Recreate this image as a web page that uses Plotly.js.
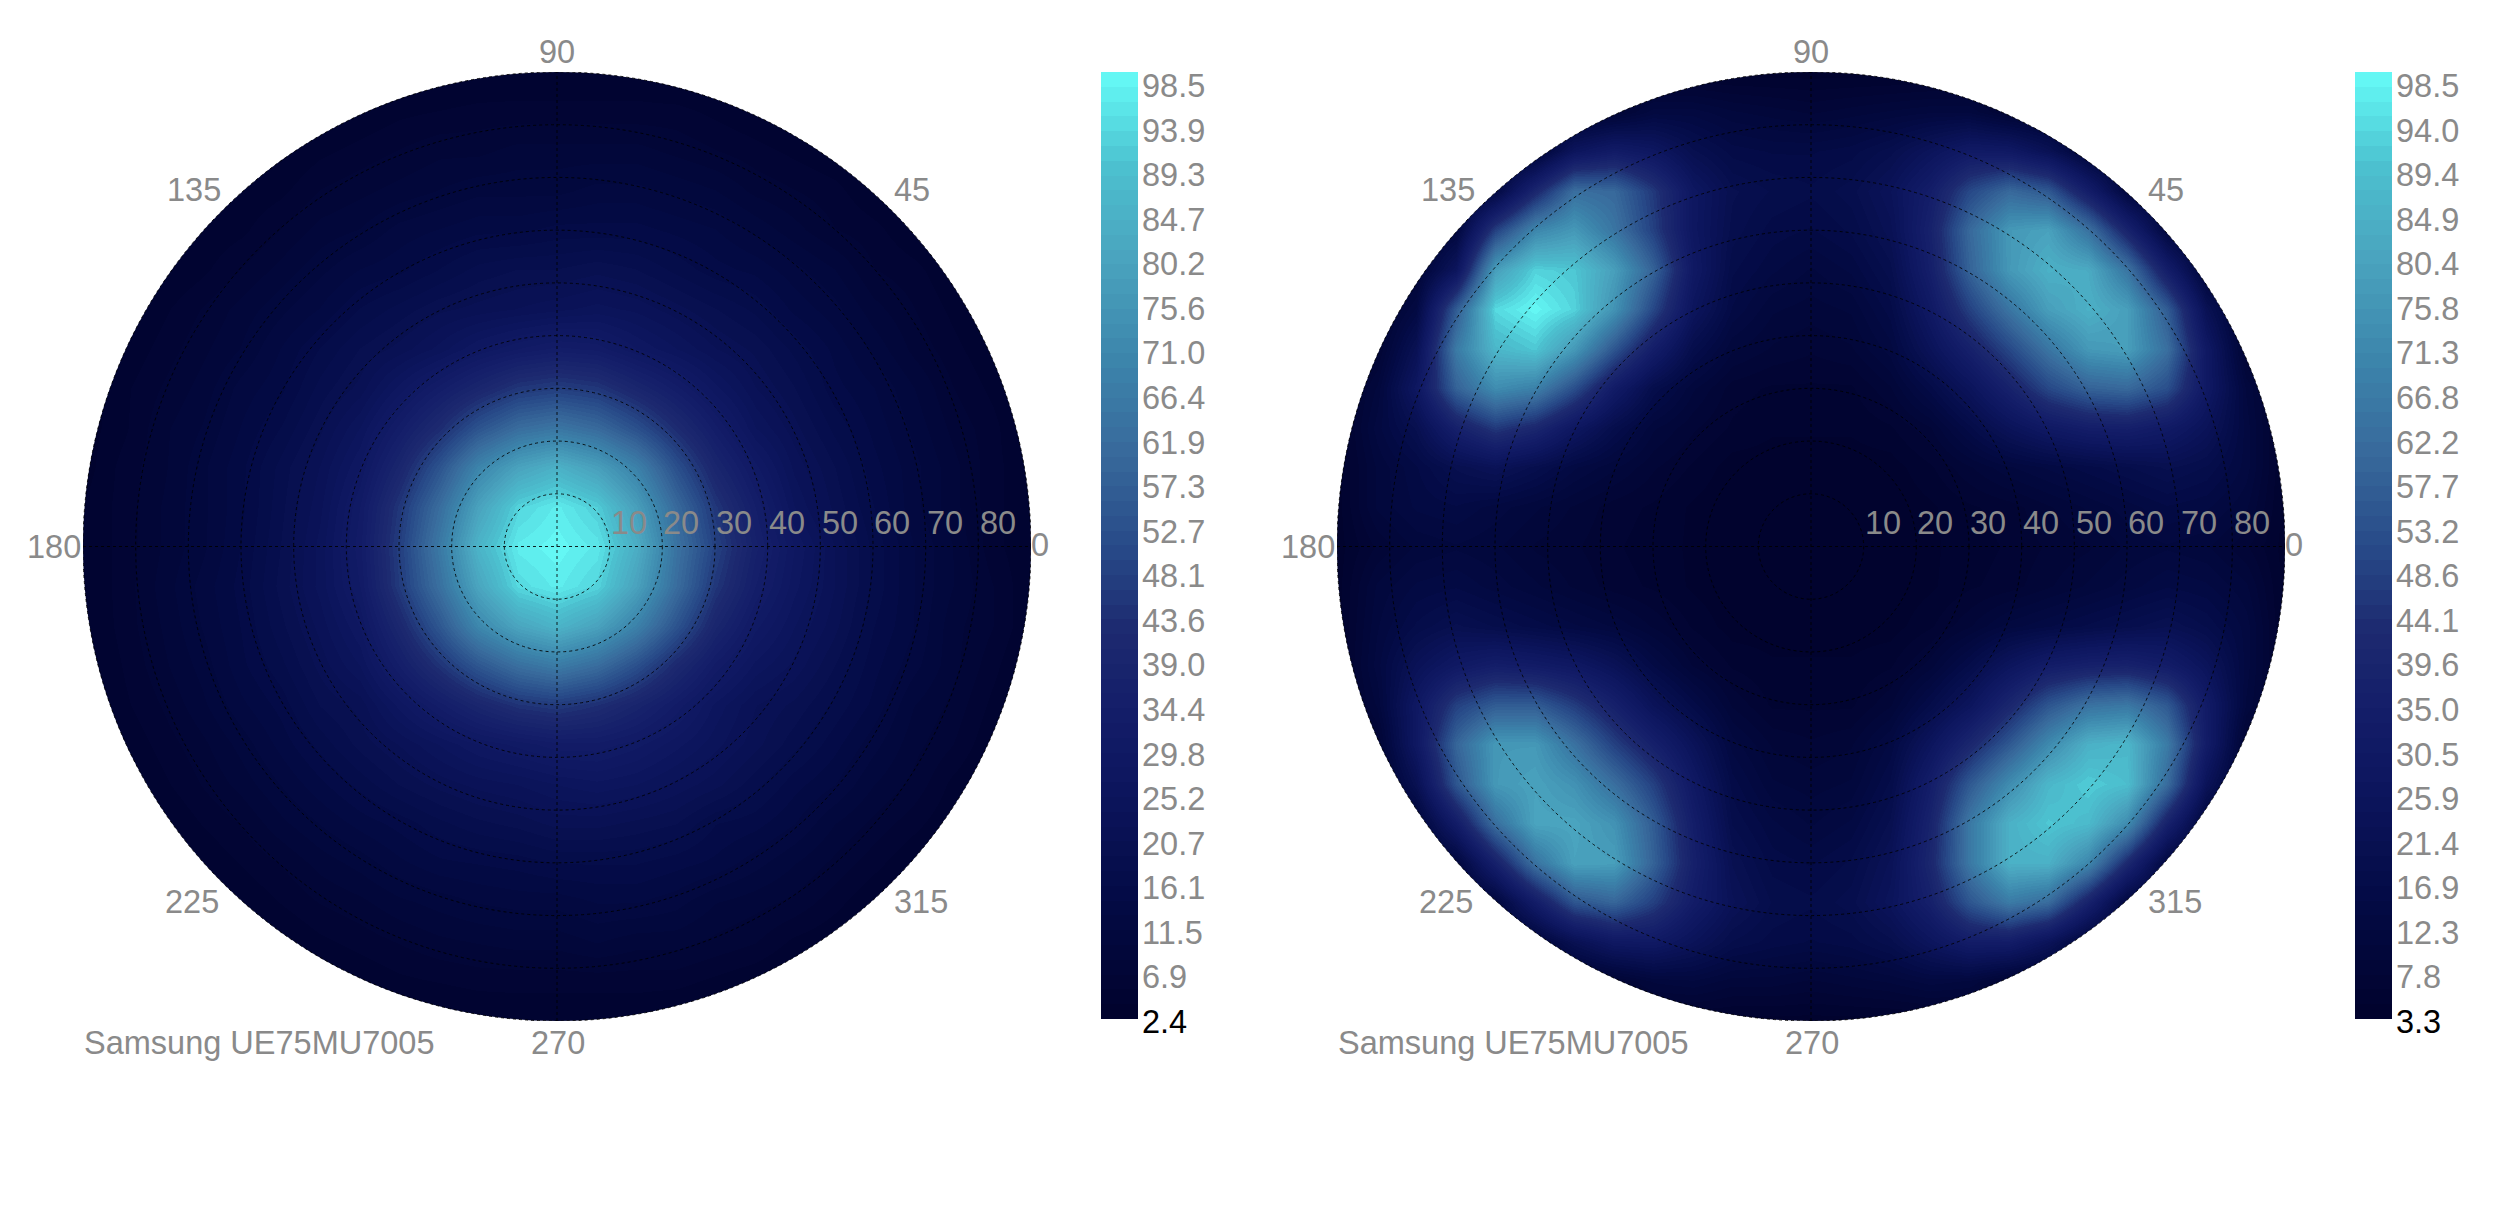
<!DOCTYPE html>
<html>
<head>
<meta charset="utf-8">
<script src="https://cdn.plot.ly/plotly-3.0.1.min.js"></script>
<style>body{margin:0;background:#fff}</style>
</head>
<body>
<div id="chart"></div>
<script>
var gridDeg = [-90,-82.5,-75,-67.5,-60,-52.5,-45,-37.5,-30,-22.5,-15,-7.5,0,7.5,15,22.5,30,37.5,45,52.5,60,67.5,75,82.5,90];
var ringDeg = [10,20,30,40,50,60,70,80];
var radialLabels = ['10','20','30','40','50','60','70','80'];
var angleLabels = ['0','45','90','135','180','225','270','315'];
var deviceName = 'Samsung UE75MU7005';

var leftTicks = ['98.5','93.9','89.3','84.7','80.2','75.6','71.0','66.4','61.9','57.3','52.7','48.1','43.6','39.0','34.4','29.8','25.2','20.7','16.1','11.5','6.9','2.4'];
var rightTicks = ['98.5','94.0','89.4','84.9','80.4','75.8','71.3','66.8','62.2','57.7','53.2','48.6','44.1','39.6','35.0','30.5','25.9','21.4','16.9','12.3','7.8','3.3'];

// rows run from y = +90 at the top to y = -90 at the bottom
var leftZ = [
[3,3,3,3,3,3,3,3,3,3,3.5,4,4,4,4,3,3,3,3,3,3,3,3,3,3],
[3,3,3,3,3,3,3,4,5,5.5,6,6,6,6,6,6,5,4,3,3,3,3,3,3,3],
[3,3,3,3,3,3.5,5,6,7,8,8,9,9,9,9,8,7,6,5,4,3,3,3,3,3],
[3,3,3,3,4,5,7,8,9,10,11,11,11,12,12,11,10,8,7,6,4,3,3,3,3],
[3,3,3,4,5,7,9,10,12,13,14,14,15,15,15,14,13,11,9,7,6,4,3,3,3],
[3,3,3.5,5,7,9,11,13,14,16,18,19,19,20,19,17,15,14,12,10,7,6,4,3,3],
[3,3,5,7,9,11,13,16,18,20,21,22,23,24,23,21,19,17,14,12,9,7,5,3,3],
[3,4,6,8,10,13,16,19,21,24,28,31,33,32,28,25,22,20,17,14,11,8,6,4,3],
[3,5,7,9,12,14,18,21,27,33,39,45,47,45,39,33,27,22,19,15,13,10,7,5,3],
[3,5,8,10,13,16,20,25,33,42,53,61,64,60,52,42,33,25,21,17,14,11,8,6,3],
[3,6,8,11,14,18,22,28,39,53,69,79,84,78,68,52,39,30,23,19,15,12,9,6,4],
[4,6,8.5,11,14,18.5,23,31,45,61,79,92,96,91,78,60,45,34,25,20,16,12,9,6,4],
[4,6,8.5,11,14.5,19,24,32,47,65,85,96,98,95,83,63,48,36,28,22,17,13,10,6,4],
[4,6,9,12,15,19.5,24,31,46,62,80,93,96,92,79,61,45,34,27,22,17,13,10,7,4],
[3.5,6,8.5,11.5,14.5,18.5,22.5,28,40,54,70,80,85,79,68,53,39,30,25,21,16,13,9,7,4],
[3,5.5,8,10.5,14,17,21,25,34,44,54,62,66,61,52,41,32,26,23,19,15,12,9,6,3],
[3,5,7,9.5,12.5,15,19,21,27,33,39,44,46,43,38,32,26,22,20,17,14,10,8,5,3],
[3,4,6,8,10.5,13.5,16.5,19.5,22,25,28,30,32,32,30,27,24,21,18,15,12,9,7,4,3],
[3,3,5,7,9,11.5,14,16.5,19,21,22.5,23.5,25,26,25,23,21,18,15,13,10,8,5,3,3],
[3,3,3.5,5.5,7,9.5,11.5,13.5,15,17,18.5,19.5,21,21,20,19,16,15,13,10,8,6,4,3,3],
[3,3,3,4,5.5,7,9,10.5,12.5,14,14.5,15,16,16,16,15,14,12,10,8,6,4,3,3,3],
[3,3,3,3,4,5.5,7,8,9.5,10.5,11.5,12,12,13,13,12,10,9,8,6,4,3,3,3,3],
[3,3,3,3,3,3.5,5,6,7,8,8.5,9,9,10,9,9,8,7,5,4,3,3,3,3,3],
[3,3,3,3,3,3,3,4,5,5.5,6,6,6,6,6,6,5,4,3,3,3,3,3,3,3],
[3,3,3,3,3,3,3,3,3,3,3.5,4,4,4,4,3,3,3,3,3,3,3,3,3,3]
];

var rightZ = [
[3.3,3.3,3.3,3.3,3.3,3.3,3.3,3.3,4,4,4,4,4,4,4,4,4,3.3,3.3,3.3,3.3,3.3,3.3,3.3,3.3],
[3.3,3.3,3.3,3.3,3.3,3.3,5,8,13,13,11,10,9,10,11,12,12,7,5,3.3,3.3,3.3,3.3,3.3,3.3],
[3.3,3.3,3.3,3.3,4,8,26,32,28,20,16,15,15,16,19,25,31,30,22,9,5,3.3,3.3,3.3,3.3],
[3.3,3.3,3.3,5,14,40,62,60,46,28,20,18,17,19,24,34,50,60,55,34,12,5,3.3,3.3,3.3],
[3.3,3.3,5,12,48,70,76,64,48,28,19,16,15,17,22,37,60,76,79,63,38,12,5,3.3,3.3],
[3.3,3.3,8,26,78,92,90,78,58,30,17,14,12,14,19,35,58,76,84,82,64,34,9,3.3,3.3],
[3.3,5,14,56,93,98,92,74,50,26,15,11,10,11,16,30,48,64,78,84,78,56,22,5,3.3],
[3.3,7,22,66,86,90,76,54,34,18,11,9,8,9,13,24,36,50,64,76,78,62,30,7,3.3],
[4,11,28,58,72,68,52,32,18,11,7,6,6,6,9,16,25,37,50,58,60,52,30,12,4],
[4,13,20,36,46,40,28,18,11,8,6,5,5,5,6,9,16,24,30,34,35,31,24,13,4],
[4,11,15,20,23,19,14,11,8,6,4,4,4,4,4,6,9,12,14,16,18,20,18,13,4],
[4,11,14,15,13,11,9,7,6,4.5,3.5,3.5,3.5,3.5,3.5,4.5,6,7,9,11,13,15,14,11,4],
[4,8,11,12,11,9,8,6.5,5.5,4.5,3.5,3.5,3.5,3.5,3.5,4.5,5.5,6.5,8,9,11,12,11,8,4],
[4,11,14,15,13,11,9,7,6,4.5,3.5,3.5,3.5,3.5,3.5,4.5,6,7,9,11,13,15,14,11,4],
[4,12,17,20,18,16,14,12,9,6,4,4,4,4,4,6,9,13,15,17,19,21,18,13,4],
[4,13,23,30,34,32,29,23,15,9,6,5,5,5,6,10,17,26,33,36,37,33,25,13,4],
[4,11,29,48,56,56,47,36,24,16,9,6,6,6,9,17,26,40,54,63,65,55,32,12,4],
[3.3,7,29,59,76,76,63,48,36,24,13,9,8,9,14,26,40,55,71,84,86,66,33,7,3.3],
[3.3,4,21,54,76,79,74,62,48,30,16,11,10,11,17,34,55,72,86,91,88,61,24,5,3.3],
[3.3,3.3,9,33,62,80,80,74,56,34,18,14,12,14,20,38,65,84,90,87,72,37,10,3.3,3.3],
[3.3,3.3,4,11,36,63,79,78,58,36,21,16,15,17,23,40,65,84,84,70,41,12,5,3.3,3.3],
[3.3,3.3,3.3,5,11,33,54,59,48,33,23,18,17,19,25,36,54,66,61,37,12,6,3.3,3.3,3.3],
[3.3,3.3,3.3,3.3,4,9,21,29,30,24,18,16,15,16,19,26,33,33,24,10,5,3.3,3.3,3.3,3.3],
[3.3,3.3,3.3,3.3,3.3,3.3,4,7,11,12,10,10,9,10,11,13,12,7,5,3.3,3.3,3.3,3.3,3.3,3.3],
[3.3,3.3,3.3,3.3,3.3,3.3,3.3,3.3,4,4,4,4,4,4,4,4,4,3.3,3.3,3.3,3.3,3.3,3.3,3.3,3.3]
];

// colour ramp, broken into 64 flat bands like the reference
var rampStops = [0, 0.12, 0.25, 0.33, 0.41, 0.5, 0.6, 0.7, 0.8, 0.9, 0.95, 1];
var rampRGB = [[1,3,44],[3,10,68],[13,22,95],[20,30,105],[29,42,112],[40,75,137],[56,106,156],[60,134,172],[74,163,190],[76,192,207],[88,223,228],[102,251,247]];

function rampAt(t) {
  var i = 0;
  while (i < rampStops.length - 2 && t > rampStops[i + 1]) i++;
  var f = (t - rampStops[i]) / (rampStops[i + 1] - rampStops[i]);
  var c = rampRGB[i].map(function(a, k) { return Math.round(a + f * (rampRGB[i + 1][k] - a)); });
  return 'rgb(' + c.join(',') + ')';
}
var bands = 64, colorscale = [];
for (var b = 0; b < bands; b++) {
  var col = rampAt((b + 0.5) / bands);
  colorscale.push([b / bands, col]);
  colorscale.push([(b + 1) / bands, col]);
}

var W = 2500, H = 1220;
var grey = '#8a8a8a', fontFam = '"Liberation Sans", Arial, sans-serif', fs = 32.5;
var top_ = 72, bottom = 1021, radius = 474;
var centers = [557, 1811];
function px(x) { return x / W; }
function py(y) { return 1 - y / H; }

function heat(z, zmin, zmax, xa, ya, barX) {
  return {
    type: 'heatmap', x: gridDeg, y: gridDeg, z: z.slice().reverse(),
    xaxis: xa, yaxis: ya, zmin: zmin, zmax: zmax, zsmooth: 'best',
    colorscale: colorscale, hoverinfo: 'skip',
    colorbar: {
      x: px(barX), xanchor: 'left', xref: 'paper', y: py(1019), yanchor: 'bottom', yref: 'paper',
      lenmode: 'pixels', len: 947, thicknessmode: 'pixels', thickness: 37,
      xpad: 0, ypad: 0, outlinewidth: 0, borderwidth: 0, ticks: '', showticklabels: false
    }
  };
}
var data = [
  heat(leftZ, 2.4, 98.5, 'x', 'y', 1101),
  heat(rightZ, 3.3, 98.5, 'x2', 'y2', 2355)
];

function axis(dom) {
  return { domain: dom, range: [-90, 90], visible: false, showgrid: false, zeroline: false, fixedrange: true };
}
var layout = {
  width: W, height: H, autosize: false, showlegend: false,
  margin: { l: 0, r: 0, t: 0, b: 0 },
  paper_bgcolor: '#fff', plot_bgcolor: '#fff',
  font: { family: fontFam, size: fs, color: grey },
  xaxis: axis([px(centers[0] - radius), px(centers[0] + radius)]),
  yaxis: axis([py(bottom), py(top_)]),
  xaxis2: axis([px(centers[1] - radius), px(centers[1] + radius)]),
  yaxis2: axis([py(bottom), py(top_)]),
  shapes: [],
  annotations: []
};

var k = 90 * 0.5523;
var maskPath = 'M-90,-90 H90 V90 H-90 Z M-90,0 C-90,' + k + ' -' + k + ',90 0,90 C' + k + ',90 90,' + k + ' 90,0 C90,-' + k + ' ' + k + ',-90 0,-90 C-' + k + ',-90 -90,-' + k + ' -90,0 Z';
var dashLine = { color: 'rgba(0,0,0,0.85)', width: 1, dash: '3px,3px' };

function text(str, x, y, color, anchor) {
  layout.annotations.push({
    text: str, xref: 'paper', yref: 'paper', x: px(x), y: py(y), showarrow: false,
    xanchor: anchor || 'center', yanchor: 'middle', borderpad: 0,
    font: { family: fontFam, size: fs, color: color || grey }
  });
}

// label spots relative to each circle centre, in pixels
var angleSpots = { '0': [483, -1], '45': [355, -356], '90': [0, -494], '135': [-363, -356], '180': [-503, 1], '225': [-365, 356], '270': [1, 497], '315': [364, 356] };

[['x', 'y'], ['x2', 'y2']].forEach(function(refs, n) {
  var cx = centers[n], cy = 546;
  layout.shapes.push({ type: 'path', xref: refs[0], yref: refs[1], path: maskPath, fillcolor: '#fff', line: { width: 0 } });
  ringDeg.concat([90]).forEach(function(r) {
    layout.shapes.push({ type: 'circle', xref: refs[0], yref: refs[1], x0: -r, x1: r, y0: -r, y1: r, line: dashLine });
  });
  layout.shapes.push({ type: 'line', xref: refs[0], yref: refs[1], x0: -90, x1: 90, y0: 0, y1: 0, line: dashLine });
  layout.shapes.push({ type: 'line', xref: refs[0], yref: refs[1], x0: 0, x1: 0, y0: -90, y1: 90, line: dashLine });

  radialLabels.forEach(function(lab, i) {
    text(lab, cx + ringDeg[i] * 5.27 + 19, cy - 23);
  });
  angleLabels.forEach(function(lab) {
    text(lab, cx + angleSpots[lab][0], cy + angleSpots[lab][1]);
  });
  text(deviceName, cx - 474, 1043, grey, 'left');

  var ticks = n === 0 ? leftTicks : rightTicks;
  ticks.forEach(function(lab, i) {
    var last = i === ticks.length - 1;
    text(lab, cx + 584, 86 + i * 44.57, last ? '#000' : grey, 'left');
  });
});

Plotly.newPlot('chart', data, layout, { displayModeBar: false, staticPlot: true });
</script>
</body>
</html>
